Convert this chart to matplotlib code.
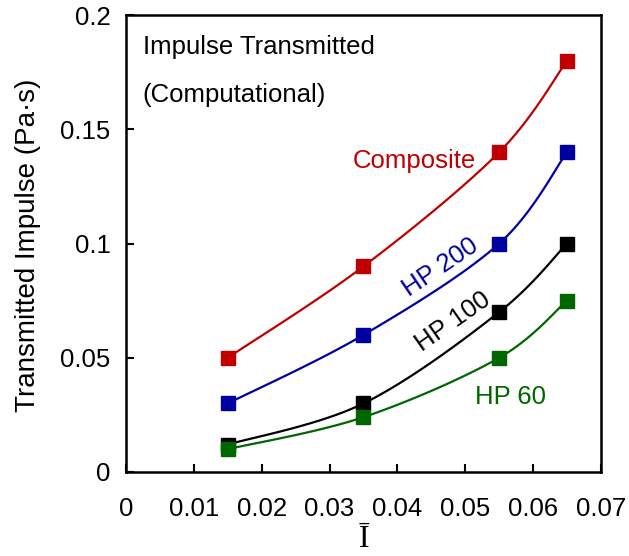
import numpy as np
import matplotlib
matplotlib.use("Agg")
import matplotlib.pyplot as plt

plt.rcParams['font.family'] = ['Liberation Sans', 'DejaVu Sans']

x_vals = [0.015, 0.035, 0.055, 0.065]
composite = [0.05, 0.09, 0.14, 0.18]
hp200 = [0.03, 0.06, 0.10, 0.14]
hp100 = [0.012, 0.03, 0.07, 0.10]
hp60 = [0.01, 0.024, 0.05, 0.075]

series = [
    ("Composite", composite, "#C00000"),
    ("HP 200", hp200, "#0000A0"),
    ("HP 100", hp100, "#000000"),
    ("HP 60", hp60, "#006600"),
]

x_ticks = [0, 0.01, 0.02, 0.03, 0.04, 0.05, 0.06, 0.07]
x_tick_labels = ["0", "0.01", "0.02", "0.03", "0.04", "0.05", "0.06", "0.07"]
y_ticks = [0, 0.05, 0.1, 0.15, 0.2]
y_tick_labels = ["0", "0.05", "0.1", "0.15", "0.2"]


def excel_smooth(xs, ys, n=40):
    xs = np.asarray(xs, float)
    ys = np.asarray(ys, float)
    sx, sy = 0.07, 0.2
    P = np.column_stack([xs / sx, ys / sy])
    out = []
    m = len(P)
    for i in range(m - 1):
        p0 = P[i - 1] if i > 0 else P[i]
        p1 = P[i]
        p2 = P[i + 1]
        p3 = P[i + 2] if i + 2 < m else P[i + 1]
        c1 = p1 + (p2 - p0) / 6.0
        c2 = p2 - (p3 - p1) / 6.0
        t = np.linspace(0, 1, n)[:, None]
        seg = ((1 - t) ** 3) * p1 + 3 * ((1 - t) ** 2) * t * c1 + 3 * (1 - t) * t ** 2 * c2 + t ** 3 * p2
        if i > 0:
            seg = seg[1:]
        out.append(seg)
    out = np.vstack(out)
    return out[:, 0] * sx, out[:, 1] * sy


fig = plt.figure(figsize=(6.29, 5.56), dpi=100)
ax = fig.add_axes([0.2003, 0.1511, 0.7552, 0.8219])

for name, ys, col in series:
    sx_, sy_ = excel_smooth(x_vals, ys)
    ax.plot(sx_, sy_, color=col, lw=1.6, zorder=2)
    ax.plot(x_vals, ys, linestyle='none', marker='s', markersize=9.5, color=col, zorder=3)

ax.set_xlim(0, 0.07)
ax.set_ylim(0, 0.2)
ax.set_xticks(x_ticks)
ax.set_xticklabels(x_tick_labels)
ax.set_yticks(y_ticks)
ax.set_yticklabels(y_tick_labels)
ax.tick_params(direction='in', length=6, width=1.5, labelsize=18.5, top=False, right=False)
ax.tick_params(axis='x', pad=18)
ax.tick_params(axis='y', pad=11)
for s in ax.spines.values():
    s.set_linewidth(1.8)

ax.set_ylabel("Transmitted Impulse (Pa·s)", fontsize=20)
ax.yaxis.set_label_coords(-0.178, 0.495)
ax.set_xlabel("Ī", fontsize=23, family=['Liberation Serif', 'DejaVu Serif'], labelpad=3)

ax.text(0.035, 0.93, "Impulse Transmitted", transform=ax.transAxes, fontsize=18.5, va='center', ha='left')
ax.text(0.035, 0.825, "(Computational)", transform=ax.transAxes, fontsize=18.5, va='center', ha='left')

ax.text(0.0425, 0.1361, "Composite", color="#C00000", fontsize=18.5, ha='center', va='center')
ax.text(0.0464, 0.0897, "HP 200", color="#0000A0", fontsize=18.5, ha='center', va='center', rotation=34)
ax.text(0.0482, 0.0656, "HP 100", color="#000000", fontsize=18.5, ha='center', va='center', rotation=35)
ax.text(0.0567, 0.033, "HP 60", color="#006600", fontsize=18.5, ha='center', va='center')

fig.savefig("out.png", dpi=100)
